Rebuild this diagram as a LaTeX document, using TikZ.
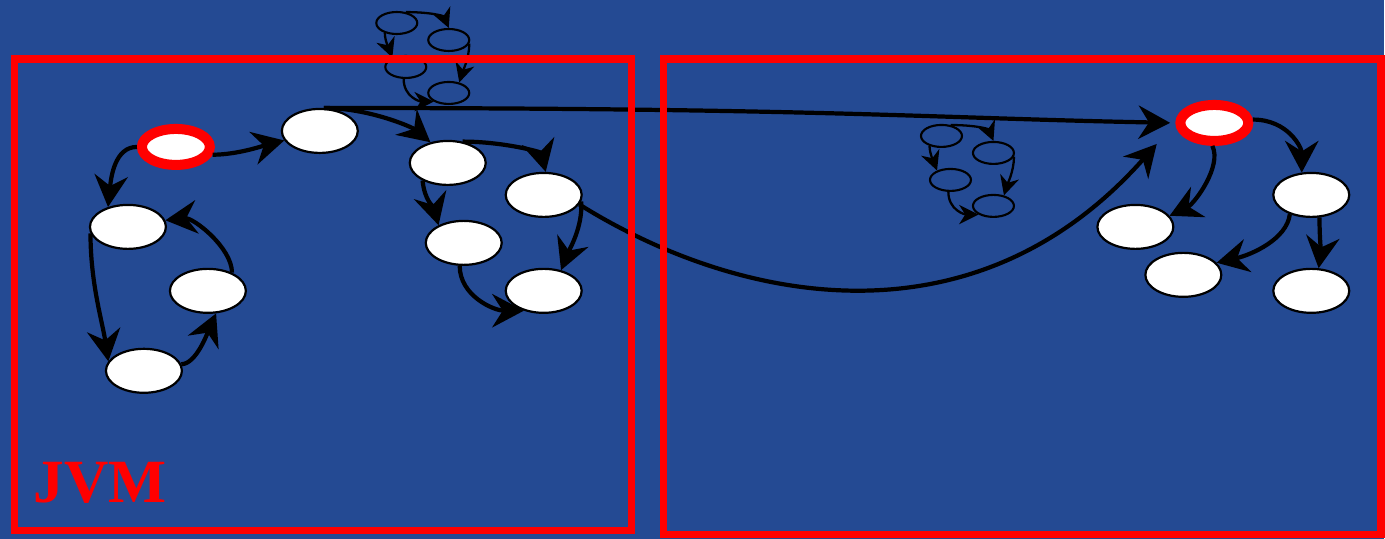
\documentclass[tikz,border=0pt]{standalone}
\usepackage{fontspec}
\setmainfont{Liberation Serif}
\usetikzlibrary{arrows.meta,shapes.geometric}
\definecolor{slideblue}{RGB}{36,74,147}

\begin{document}
\begin{tikzpicture}[x=0.02cm,y=-0.02cm,
    obj/.style={ellipse,draw=black,fill=white,line width=1.25pt,
      minimum width=1.52cm,minimum height=0.88cm,inner sep=0pt},
    rootobj/.style={ellipse,draw=red,fill=white,line width=5.7pt,
      minimum width=1.36cm,minimum height=0.72cm,inner sep=0pt},
    minobj/.style={ellipse,draw=black,line width=1.2pt,
      minimum width=0.82cm,minimum height=0.44cm,inner sep=0pt},
    refarrow/.style={line width=2.4pt,-{Stealth[length=18pt,width=19pt,inset=6pt]}},
    minarrow/.style={line width=1.3pt,-{Stealth[length=11pt,width=11pt,inset=3.5pt]}},
    heap/.style={draw=red,line width=4.3pt}]
  \fill[slideblue] (0,0) rectangle (1385,539);

  % small copies of the graph
  \foreach \g/\x/\y in {t/397/23,m/942/136}{
    \node[minobj] (\g1) at (\x,\y) {};
    \node[minobj] (\g2) at ({\x+52},{\y+17}) {};
    \node[minobj] (\g3) at ({\x+9},{\y+44}) {};
    \node[minobj] (\g4) at ({\x+52},{\y+70}) {};
    \draw[minarrow] (\g1.50) .. controls +(25,0) and +(-5,-12) .. (\g2.90);
    \draw[minarrow] (\g1.220) .. controls +(0,8) and +(-3,-8) .. (\g3.145);
    \draw[minarrow] (\g2.-10) .. controls +(0,15) and +(3,-10) .. (\g4.45);
    \draw[minarrow] (\g3.-100) .. controls +(0,18) and +(-14,0) .. (\g4.210);
  }

  % objects
  \node[rootobj] (lroot) at (176,147) {};
  \node[rootobj] (rroot) at (1215,123) {};
  \foreach \n/\x/\y in {l1/128/227,l2/208/291,l3/144/371,l4/320/131,
      l5/448/163,l6/544/195,l7/464/243,l8/544/291,
      r1/1312/195,r2/1136/227,r3/1184/275,r4/1312/291}{
    \node[obj] (\n) at (\x,\y) {};
  }

  % references
  \draw[refarrow] (lroot.west) .. controls +(-22,0) and +(3,-30) .. (l1.135);
  \draw[refarrow] (l1.190) .. controls +(0,50) and +(-6,-40) .. (l3.165);
  \draw[refarrow] (l3.10) .. controls +(15,0) and +(-8,18) .. (l2.-70);
  \draw[refarrow] (l2.37) .. controls +(0,-25) and +(28,-3) .. (l1.10);
  \draw[refarrow] (lroot.-12) .. controls +(25,0) and +(-20,5) .. (l4.195);
  \draw[refarrow] (l4.80) .. controls +(45,0) and +(-18,-15) .. (l5.130);
  \draw[refarrow,shorten >=3pt] (l4.80) .. controls +(500,0) and +(-250,-5) .. (rroot.west);
  \draw[refarrow] (l5.55) .. controls +(40,0) and +(-5,-20) .. (l6.85);
  \draw[refarrow] (l5.215) .. controls +(2,20) and +(-5,-18) .. (l7.145);
  \draw[refarrow] (l7.-100) .. controls +(0,30) and +(-30,0) .. (l8.225);
  \draw[refarrow] (l6.-10) .. controls +(2,25) and +(8,-20) .. (l8.50);
  \draw[refarrow,shorten >=16pt] (l6.-15) .. controls +(160,100) and +(-201,227) .. (rroot.west);
  \draw[refarrow] (rroot.5) .. controls +(35,0) and +(0,-25) .. (r1.113);
  \draw[refarrow] (rroot.-95) .. controls +(10,20) and +(25,-12) .. (r2.18);
  \draw[refarrow] (r1.222) .. controls +(-3,25) and +(35,-8) .. (r3.20);
  \draw[refarrow] (r1.-70) .. controls +(0,15) and +(2,-15) .. (r4.72);

  % the two heaps
  \draw[heap] (14.5,59) rectangle (632,531);
  \draw[heap] (664,59) rectangle (1382,535);
  \node[anchor=base west,inner sep=0pt,text=red,
    font=\fontsize{35}{40}\selectfont\bfseries] (jvm) at (33,503) {JVM};
\end{tikzpicture}
\end{document}
